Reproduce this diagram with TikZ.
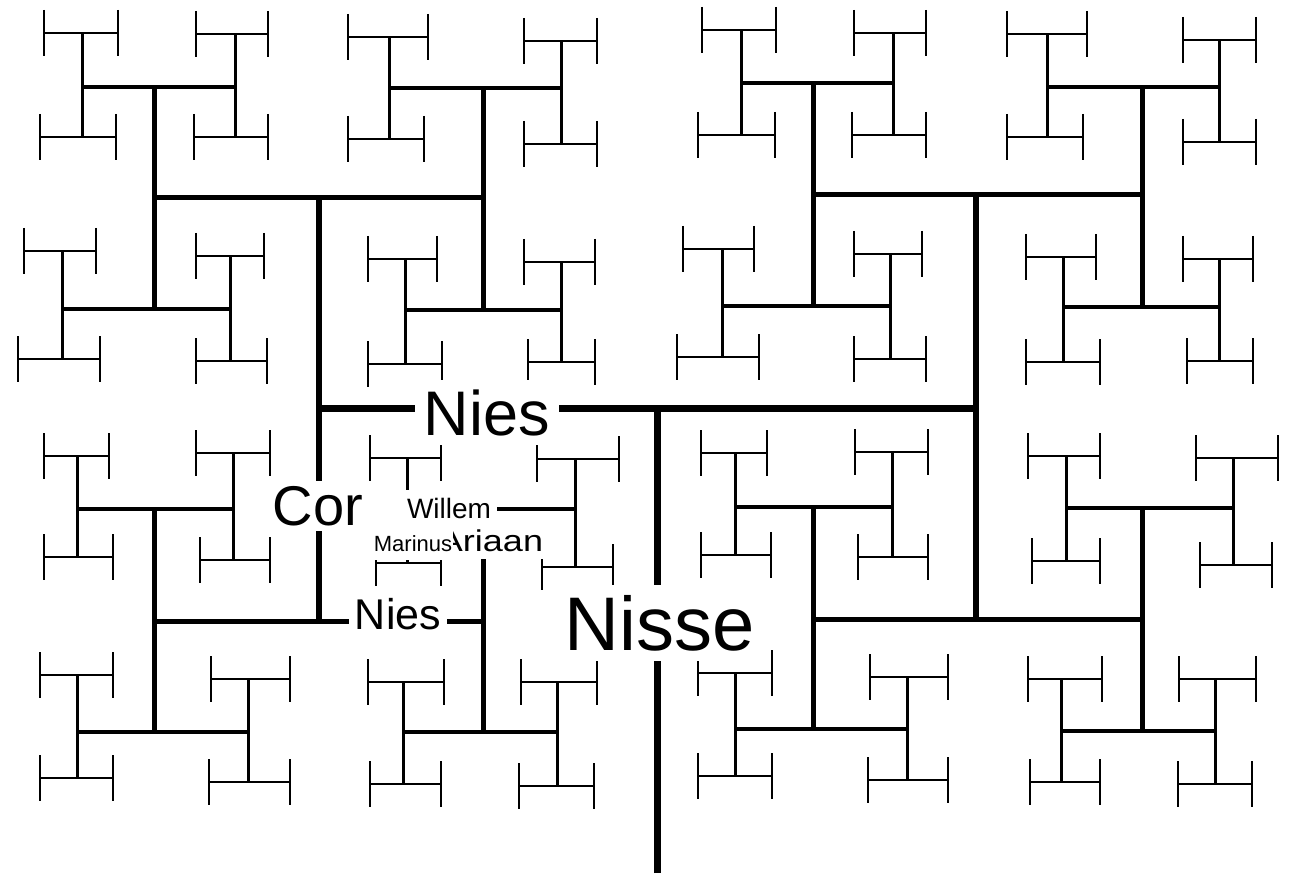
\documentclass[tikz,border=0pt]{standalone}
\usepackage{fontspec}
\setmainfont{Liberation Sans}
\usepackage{graphicx}

% one small H: stem x, top y, bottom y, top bar ends, bottom bar ends
\newcommand{\hleaf}[7]{%
  \draw[lev6] (#1,#2) -- (#1,#3);
  \draw[lev7] (#4,#2) -- (#5,#2);
  \draw[lev7] (#6,#3) -- (#7,#3);
  \draw[lev8] (#4,#2-23) -- (#4,#2+23) (#5,#2-23) -- (#5,#2+23)
              (#6,#3-23) -- (#6,#3+23) (#7,#3-23) -- (#7,#3+23);
}

\begin{document}
\begin{tikzpicture}[x=1pt, y=-1pt,
  lev0/.style={line width=7pt},
  lev1/.style={line width=7pt},
  lev2/.style={line width=6pt},
  lev3/.style={line width=5pt},
  lev4/.style={line width=5pt},
  lev5/.style={line width=3.5pt},
  lev6/.style={line width=3pt},
  lev7/.style={line width=2pt},
  lev8/.style={line width=2pt},
  tag/.style={fill=white, anchor=base, text=black}]
\path[fill=white] (0,0) rectangle (1289,877);

% trunk and first boughs
\draw[lev0] (657,873) -- (657,408);
\draw[lev1] (319,408) -- (976,408);
\draw[lev2] (319,198) -- (319,621);
\draw[lev2] (976,195) -- (976,619);
\draw[lev3] (154,198) -- (483,198);
\draw[lev3] (154,621) -- (483,621);
\draw[lev3] (813,195) -- (1142,195);
\draw[lev3] (813,619) -- (1142,619);
\draw[lev4] (154,87) -- (154,309);
\draw[lev4] (483,88) -- (483,310);
\draw[lev4] (813,83) -- (813,306);
\draw[lev4] (1142,87) -- (1142,307);
\draw[lev4] (154,509) -- (154,732);
\draw[lev4] (483,509) -- (483,732);
\draw[lev4] (813,507) -- (813,729);
\draw[lev4] (1142,508) -- (1142,731);
\draw[lev5] (82,87) -- (235,87);
\draw[lev5] (62,309) -- (230,309);
\draw[lev5] (389,88) -- (561,88);
\draw[lev5] (405,310) -- (561,310);
\draw[lev5] (741,83) -- (893,83);
\draw[lev5] (722,306) -- (890,306);
\draw[lev5] (1047,87) -- (1219,87);
\draw[lev5] (1063,307) -- (1219,307);
\draw[lev5] (77,509) -- (233,509);
\draw[lev5] (77,732) -- (248,732);
\draw[lev5] (407,509) -- (575,509);
\draw[lev5] (403,732) -- (557,732);
\draw[lev5] (735,507) -- (892,507);
\draw[lev5] (735,729) -- (907,729);
\draw[lev5] (1066,508) -- (1233,508);
\draw[lev5] (1061,731) -- (1215,731);

% small H's, top half
\hleaf{82}{33}{137}{44}{118}{40}{116}
\hleaf{235}{34}{137}{196}{268}{194}{268}
\hleaf{62}{251}{359}{24}{96}{18}{100}
\hleaf{230}{256}{361}{196}{264}{196}{267}
\hleaf{389}{37}{139}{348}{428}{348}{424}
\hleaf{561}{41}{144}{524}{597}{524}{597}
\hleaf{405}{259}{364}{368}{437}{368}{442}
\hleaf{561}{262}{362}{524}{595}{528}{595}
\hleaf{741}{30}{135}{702}{776}{698}{775}
\hleaf{893}{33}{135}{854}{926}{852}{926}
\hleaf{722}{249}{357}{683}{754}{677}{759}
\hleaf{890}{254}{359}{854}{922}{854}{926}
\hleaf{1047}{34}{137}{1007}{1087}{1007}{1083}
\hleaf{1219}{40}{142}{1183}{1256}{1183}{1256}
\hleaf{1063}{257}{362}{1026}{1096}{1026}{1100}
\hleaf{1219}{259}{361}{1183}{1253}{1187}{1253}
% small H's, bottom half
\hleaf{77}{456}{557}{44}{109}{44}{113}
\hleaf{233}{453}{560}{196}{270}{200}{270}
\hleaf{77}{675}{778}{40}{113}{40}{113}
\hleaf{248}{679}{782}{211}{290}{209}{290}
\hleaf{407}{458}{563}{370}{441}{376}{441}
\hleaf{575}{459}{567}{537}{619}{542}{613}
\hleaf{403}{682}{784}{368}{444}{370}{441}
\hleaf{557}{682}{786}{521}{597}{519}{594}
\hleaf{735}{453}{555}{701}{767}{701}{771}
\hleaf{892}{452}{557}{855}{928}{858}{928}
\hleaf{735}{673}{776}{698}{772}{698}{772}
\hleaf{907}{677}{780}{870}{948}{868}{948}
\hleaf{1066}{456}{561}{1028}{1100}{1032}{1100}
\hleaf{1233}{458}{565}{1196}{1278}{1200}{1272}
\hleaf{1061}{679}{782}{1028}{1102}{1030}{1100}
\hleaf{1215}{679}{784}{1179}{1256}{1178}{1252}

% names
\node[tag, inner sep=9pt, font={\fontsize{63}{63}\selectfont}] (niestop) at (487,435) {Nies};
\node[tag, inner sep=5pt, font={\fontsize{56}{56}\selectfont}] (cor) at (318,525) {Cor};
\node[tag, inner sep=10pt, font={\fontsize{76}{76}\selectfont}] (nisse) at (660,650) {Nisse};
\node[tag, inner sep=6pt, font={\fontsize{43}{43}\selectfont}] (niesbot) at (398,629) {Nies};
\node[tag, inner xsep=6pt, inner ysep=8pt, font={\fontsize{28}{28}\selectfont}] (willem) at (449,518) {Willem};
\node[tag, inner xsep=1pt, inner ysep=8pt, font={\fontsize{30}{30}\selectfont}] (ariaan) at (491,551) {\scalebox{1.2}[1]{Ariaan}};
\node[tag, inner xsep=0.5pt, inner ysep=9pt, font={\fontsize{22}{22}\selectfont}] (marinus) at (413,551) {Marinus};
\end{tikzpicture}
\end{document}
